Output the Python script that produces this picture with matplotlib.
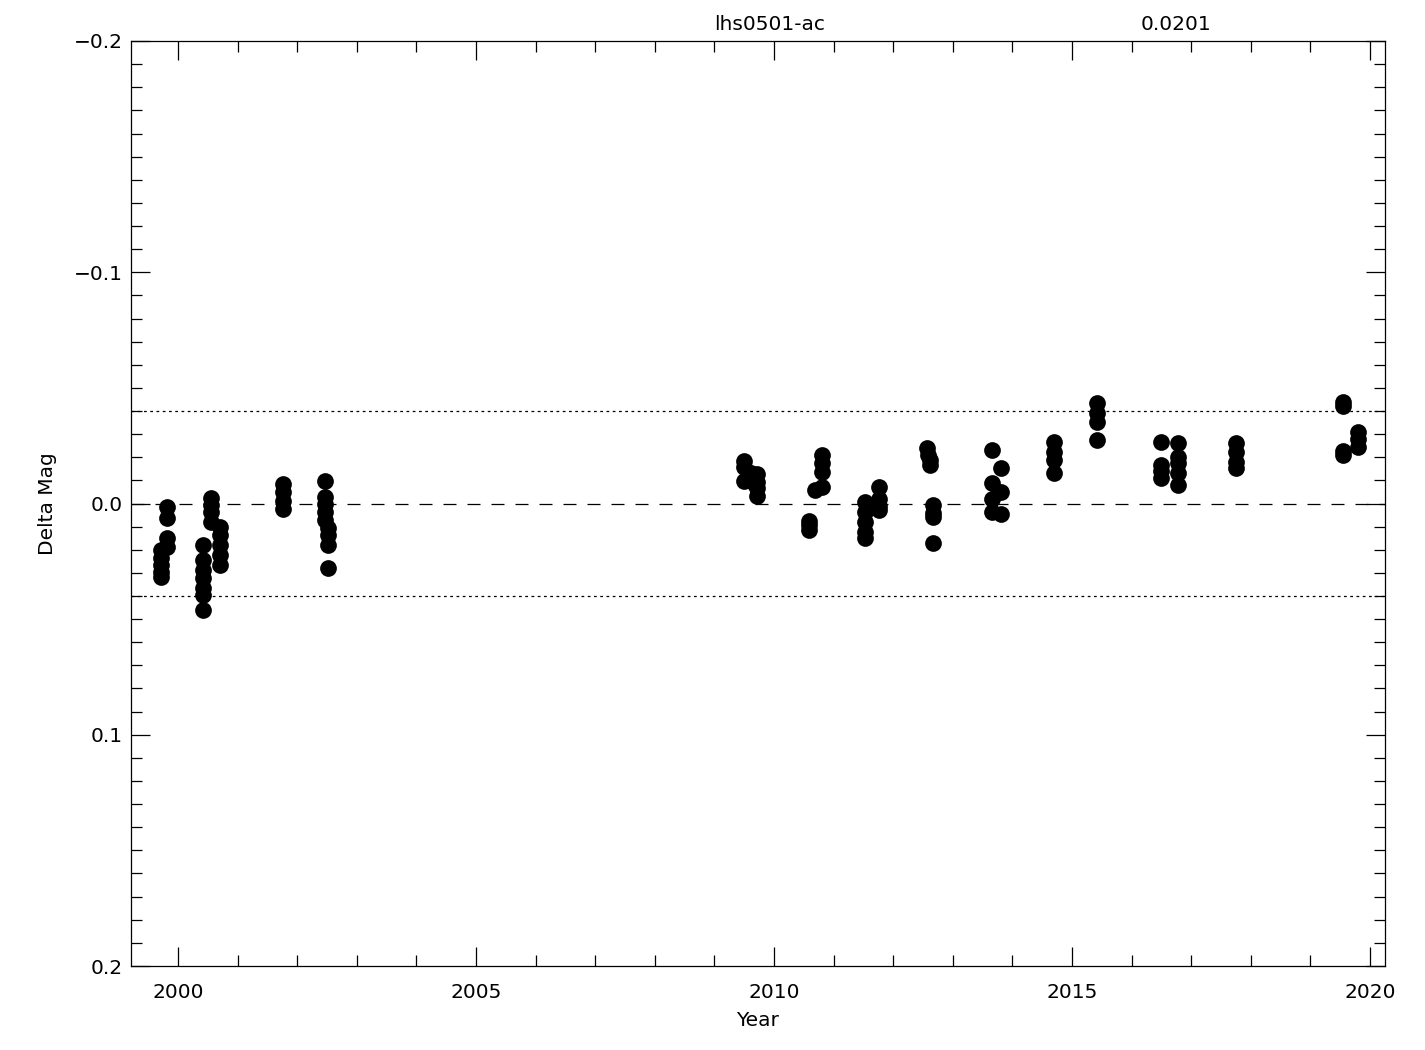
import matplotlib
matplotlib.use("Agg")
import matplotlib.pyplot as plt
from matplotlib.ticker import MultipleLocator

# Data
years = [
    1999.71, 1999.71, 1999.71, 1999.71, 1999.71,
    1999.81, 1999.81, 1999.81, 1999.81,
    2000.41, 2000.41, 2000.41, 2000.41, 2000.41, 2000.41, 2000.41,
    2000.56, 2000.56, 2000.56, 2000.56,
    2000.70, 2000.70, 2000.70, 2000.70, 2000.70,
    2001.76, 2001.76, 2001.76, 2001.76,
    2002.46, 2002.46, 2002.46, 2002.46, 2002.46,
    2002.51, 2002.51, 2002.51, 2002.51,
    2009.49, 2009.49, 2009.49,
    2009.62, 2009.66,
    2009.71, 2009.71, 2009.71, 2009.71,
    2010.81, 2010.81, 2010.81, 2010.81,
    2010.69,
    2010.58, 2010.58, 2010.58,
    2011.53, 2011.53, 2011.53, 2011.53, 2011.53,
    2011.76, 2011.76, 2011.76, 2011.76,
    2012.56, 2012.59, 2012.62, 2012.62,
    2012.67, 2012.67, 2012.67, 2012.67,
    2013.66, 2013.66, 2013.66, 2013.66,
    2013.80, 2013.80, 2013.80,
    2014.69, 2014.69, 2014.69, 2014.69,
    2015.42, 2015.42, 2015.42, 2015.42,
    2016.49, 2016.49, 2016.49, 2016.49,
    2016.77, 2016.77, 2016.77, 2016.77, 2016.77,
    2017.75, 2017.75, 2017.75, 2017.75,
    2019.54, 2019.54, 2019.54, 2019.54,
    2019.79, 2019.79, 2019.79,
]
delta_mag = [
    0.0201, 0.0236, 0.0266, 0.0296, 0.0318,
    0.0015, 0.0063, 0.0149, 0.0188,
    0.0180, 0.0244, 0.0288, 0.0322, 0.0365, 0.0396, 0.0460,
    -0.0024, 0.0006, 0.0037, 0.0080,
    0.0102, 0.0136, 0.0180, 0.0223, 0.0266,
    -0.0084, -0.0050, -0.0011, 0.0024,
    -0.0097, -0.0028, 0.0002, 0.0037, 0.0071,
    0.0106, 0.0136, 0.0180, 0.0279,
    -0.0184, -0.0158, -0.0097,
    -0.0130, -0.0090,
    -0.0128, -0.0093, -0.0067, -0.0032,
    -0.0210, -0.0175, -0.0136, -0.0071,
    -0.0060,
    0.0076, 0.0095, 0.0115,
    -0.0006, 0.0037, 0.0080, 0.0123, 0.0150,
    -0.0071, -0.0020, 0.0010, 0.0030,
    -0.0240, -0.0210, -0.0190, -0.0166,
    0.0006, 0.0040, 0.0060, 0.0170,
    -0.0230, -0.0090, -0.0020, 0.0037,
    -0.0154, -0.0050, 0.0045,
    -0.0266, -0.0223, -0.0188, -0.0132,
    -0.0435, -0.0390, -0.0352, -0.0275,
    -0.0266, -0.0166, -0.0140, -0.0110,
    -0.0262, -0.0200, -0.0175, -0.0132, -0.0080,
    -0.0260, -0.0223, -0.0180, -0.0154,
    -0.0439, -0.0420, -0.0227, -0.0210,
    -0.0310, -0.0280, -0.0245,
]
threshold = 0.04
title_left = "lhs0501-ac"
title_right = "0.0201"

plt.rcParams['font.family'] = ['DejaVu Sans']
fig = plt.figure(figsize=(14.25, 10.5), dpi=100)
ax = fig.add_axes([131/1425, 84/1050, (1385-131)/1425, (966-41)/1050])

ax.scatter(years, delta_mag, s=145, c='black', marker='o', linewidths=0, zorder=3)

ax.axhline(0.0, color='black', lw=0.9, dashes=(10.4, 8.8))
ax.axhline(threshold, color='black', lw=0.9, dashes=(2.2, 2.8))
ax.axhline(-threshold, color='black', lw=0.9, dashes=(2.2, 2.8))

ax.set_xlim(1999.21, 2020.25)
ax.set_ylim(0.2, -0.2)

ax.xaxis.set_major_locator(MultipleLocator(5))
ax.xaxis.set_minor_locator(MultipleLocator(1))
ax.yaxis.set_major_locator(MultipleLocator(0.1))
ax.yaxis.set_minor_locator(MultipleLocator(0.01))
ax.set_yticks([-0.2, -0.1, 0.0, 0.1, 0.2])
ax.set_yticklabels(['\u22120.2', '\u22120.1', '0.0', '0.1', '0.2'])

fs = 14.5
ax.tick_params(which='both', direction='in', top=True, right=True, width=0.9,
               labelsize=fs, colors='black')
ax.tick_params(which='major', length=14)
ax.tick_params(axis='x', which='major', pad=12)
ax.tick_params(axis='y', which='major', pad=6)
ax.tick_params(which='minor', length=8)
for sp in ax.spines.values():
    sp.set_linewidth(0.9)

ax.set_xlabel('Year', fontsize=fs, labelpad=7)
ax.set_ylabel('Delta Mag', fontsize=fs, labelpad=12)

fig.text(770/1425, 1 - 25/1050, title_left, ha='center', va='center', fontsize=fs)
fig.text(1176/1425, 1 - 25/1050, title_right, ha='center', va='center', fontsize=fs)

fig.savefig('out.png', dpi=100, facecolor='white')
